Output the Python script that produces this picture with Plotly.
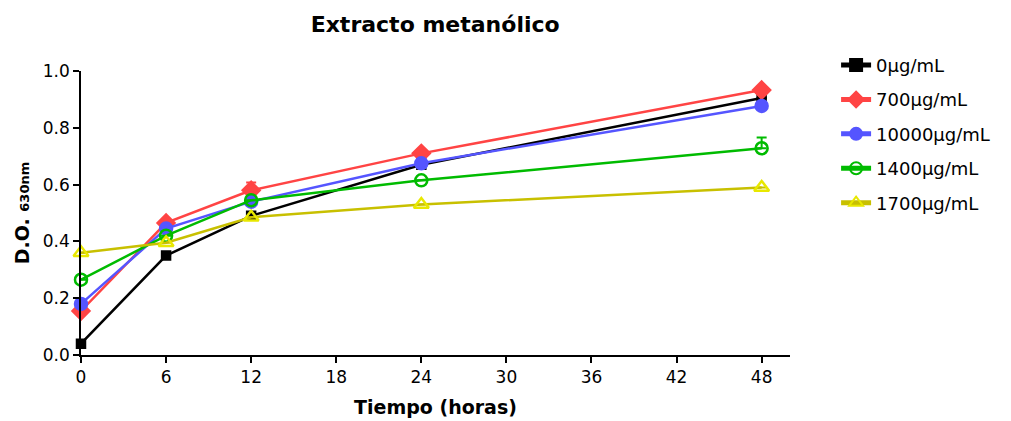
import plotly.graph_objects as go

tiempo = [0, 6, 12, 24, 48]
series_names = ["0\u00b5g/mL", "700\u00b5g/mL", "10000\u00b5g/mL", "1400\u00b5g/mL", "1700\u00b5g/mL"]
od_0 = [0.04, 0.35, 0.49, 0.67, 0.905]
od_700 = [0.155, 0.465, 0.58, 0.71, 0.933]
od_10000 = [0.18, 0.445, 0.54, 0.675, 0.877]
od_1400 = [0.265, 0.42, 0.545, 0.615, 0.728]
od_1700 = [0.36, 0.395, 0.485, 0.53, 0.59]
err_0 = [0.0, 0.0, 0.0, 0.022, 0.0]
err_700 = [0.0, 0.0, 0.027, 0.0, 0.0]
err_10000 = [0.0, 0.0, 0.0, 0.0, 0.0]
err_1400 = [0.0, 0.0, 0.0, 0.0, 0.038]
err_1700 = [0.0, 0.0, 0.0, 0.0, 0.0]

styles = [
    dict(color="#000000", mcolor="#000000", symbol="square", size=8, lw=2.5),
    dict(color="#ff4444", mcolor="#ff4444", symbol="diamond", size=13, lw=2.5),
    dict(color="#5555ff", mcolor="#5555ff", symbol="circle", size=12, lw=2.5),
    dict(color="#00bb00", mcolor="#00bb00", symbol="circle-open", size=12, lw=2.5),
    dict(color="#c8c000", mcolor="#e8e800", symbol="triangle-up-open", size=13, lw=2.5),
]
values = [od_0, od_700, od_10000, od_1400, od_1700]
errors = [err_0, err_700, err_10000, err_1400, err_1700]

FONT = "DejaVu Sans, Liberation Sans, Arial, sans-serif"

fig = go.Figure()
for i, (name, vals, errs, st) in enumerate(zip(series_names, values, errors, styles)):
    fig.add_trace(go.Scatter(
        x=tiempo, y=vals, name=name, mode="lines+markers",
        legendgroup=f"g{i}",
        line=dict(color=st["color"], width=st["lw"]),
        marker=dict(symbol=st["symbol"], size=st["size"], color=st["mcolor"],
                    line=dict(color=st["mcolor"], width=2.5)),
        error_y=dict(type="data", array=errs, arrayminus=[0]*len(errs), symmetric=False,
                     color=st["color"], thickness=2, width=5),
        cliponaxis=False,
    ))

# the page body has an 8px margin, so margins are reduced by 8px
fig.update_layout(
    width=1011, height=421,
    margin=dict(l=73, r=229, t=63, b=74),
    plot_bgcolor="white", paper_bgcolor="white",
    font=dict(family=FONT, size=16, color="#000000"),
    title=dict(text="<b>Extracto metanólico</b>", x=0.4225, xanchor="center",
               y=0.962, yanchor="middle", font=dict(size=22)),
    showlegend=True,
    legend=dict(x=1.065, y=1.085, xanchor="left", yanchor="top",
                traceorder="grouped", tracegroupgap=8, itemsizing="constant",
                font=dict(size=18), bgcolor="rgba(0,0,0,0)"),
    xaxis=dict(range=[0, 50], tickmode="array", tickvals=[0, 6, 12, 18, 24, 30, 36, 42, 48],
               showgrid=False, zeroline=False, showline=True, linecolor="black", linewidth=1.5,
               ticks="outside", ticklen=6, tickcolor="black", tickwidth=1.5,
               tickfont=dict(size=17),
               title=dict(text="<b>Tiempo (horas)</b>", font=dict(size=19), standoff=15)),
    yaxis=dict(range=[0, 1.0], tickmode="array", tickvals=[0, 0.2, 0.4, 0.6, 0.8, 1.0],
               ticktext=["0.0", "0.2", "0.4", "0.6", "0.8", "1.0"],
               showgrid=False, zeroline=False, showline=True, linecolor="black", linewidth=1.5,
               ticks="outside", ticklen=6, tickcolor="black", tickwidth=1.5,
               tickfont=dict(size=17),
               title=dict(text="<b>D.O. <span style='font-size:13px'>630nm</span></b>",
                          font=dict(size=19), standoff=8)),
)

fig.write_html("out.html")
